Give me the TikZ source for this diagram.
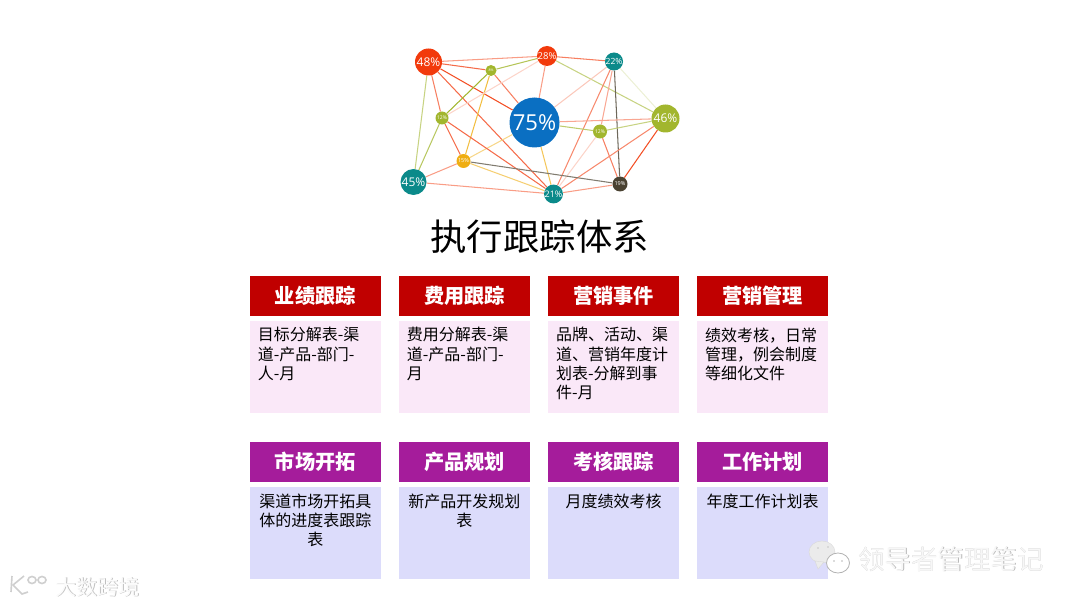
\documentclass[tikz,border=0pt]{standalone}
\usepackage{fontspec}
\setmainfont{Noto Sans CJK SC}
\newfontfamily\pctfont{Open Sans}
\usetikzlibrary{positioning, backgrounds}
\definecolor{cred}{HTML}{C00000}
\definecolor{cpurple}{HTML}{A51C9B}
\definecolor{cpink}{HTML}{FAE8F8}
\definecolor{clav}{HTML}{DCDCFB}
\definecolor{corange}{HTML}{F23A0C}
\definecolor{cteal}{HTML}{0B8A8A}
\definecolor{colive}{HTML}{A2B62E}
\definecolor{cblue}{HTML}{0A6FC2}
\definecolor{cyellow}{HTML}{EFAE12}
\definecolor{cdark}{HTML}{4A4232}
\newcommand{\celltext}[2][\raggedright]{\parbox[c][84pt][t]{115pt}{\vspace*{2.6pt}#1 #2}}

\begin{document}
\begin{tikzpicture}[
  x=1pt, y=-1pt,
  node distance = 5pt and 17.8pt,
  dot/.style    = {circle, fill=#1, inner sep=0pt, text=white},
  headbox/.style = {rectangle, fill=#1, text=white, minimum width=130.9pt,
                    minimum height=40pt, inner sep=0pt,
                    font=\fontsize{20.2}{24}\selectfont\bfseries},
  bodybox/.style = {rectangle, fill=#1, minimum width=130.9pt,
                    minimum height=92pt, inner xsep=7.8pt, inner ysep=4pt,
                    font=\fontsize{16}{19.3}\selectfont},
  lnk/.style    = {#1, line width=1.05pt},
  wmark/.style  = {text=gray!#1, inner sep=0pt},
  logoline/.style = {gray!38, line width=1.6pt},
]
\useasboundingbox (0,0) rectangle (1080,607);

%% --- Network nodes ---
\node[dot=cblue,   minimum size=50pt, font=\pctfont\fontsize{22}{24}\selectfont]  (n75) at (534.5,122.5) {75\%};
\node[dot=corange, minimum size=27pt, font=\pctfont\fontsize{12}{14}\selectfont]  (n48) at (428.5,62)  {48\%};
\node[dot=corange, minimum size=20pt, font=\pctfont\fontsize{9.5}{11}\selectfont] (n28) at (547,56)  {28\%};
\node[dot=cteal,   minimum size=18pt, font=\pctfont\fontsize{8.5}{10}\selectfont] (n22) at (614,61.5)  {22\%};
\node[dot=colive,  minimum size=11pt, font=\pctfont\fontsize{3.5}{4}\selectfont]  (n8)  at (491,70.5)  {8\%};
\node[dot=colive,  minimum size=28pt, font=\pctfont\fontsize{12}{14}\selectfont]  (n46) at (665.5,118.5) {46\%};
\node[dot=colive,  minimum size=13pt, font=\pctfont\fontsize{5}{6}\selectfont]    (n12a) at (442,118) {12\%};
\node[dot=colive,  minimum size=14pt, font=\pctfont\fontsize{5}{6}\selectfont]    (n12b) at (600,131.5) {12\%};
\node[dot=cyellow, minimum size=14pt, font=\pctfont\fontsize{5.5}{6}\selectfont]  (n15) at (463.5,161) {15\%};
\node[dot=cteal,   minimum size=26pt, font=\pctfont\fontsize{12}{14}\selectfont]  (n45) at (413.5,182) {45\%};
\node[dot=cteal,   minimum size=17pt, font=\pctfont\fontsize{9}{10}\selectfont]   (n21) at (553.5,194) {21\%};
\node[dot=cdark,   minimum size=15pt, font=\pctfont\fontsize{5.5}{6}\selectfont]  (n19) at (620,184) {19\%};

%% --- Network links ---
\begin{pgfonlayer}{background}
  \draw[lnk=corange!50]  (n48) -- (n28);
  \draw[lnk=corange!75]  (n48) -- (n8);
  \draw[lnk=corange!90]  (n48) -- (n75);
  \draw[lnk=corange!65]  (n48) -- (n12a);
  \draw[lnk=corange!75]  (n48) -- (n21);
  \draw[lnk=colive!60]   (n48) -- (n45);
  \draw[lnk=colive!80]   (n8)  -- (n28);
  \draw[lnk=colive]      (n8)  -- (n12a);
  \draw[lnk=cyellow!80]  (n8)  -- (n15);
  \draw[lnk=corange!65]  (n8)  -- (n75);
  \draw[lnk=corange!65]  (n28) -- (n22);
  \draw[lnk=corange!50]  (n28) -- (n75);
  \draw[lnk=colive!60]   (n28) -- (n46);
  \draw[lnk=corange!22]  (n28) -- (n12a);
  \draw[lnk=corange!28]  (n22) -- (n75);
  \draw[lnk=corange!60]  (n22) -- (n21);
  \draw[lnk=corange!45]  (n22) -- (n12b);
  \draw[lnk=cdark!80]    (n22) -- (n19);
  \draw[lnk=colive!20]   (n22) -- (n46);
  \draw[lnk=corange!45]  (n75) -- (n46);
  \draw[lnk=colive!70]   (n75) -- (n12b);
  \draw[lnk=cyellow!50]  (n75) -- (n15);
  \draw[lnk=cyellow!70]  (n75) -- (n21);
  \draw[lnk=colive!60]   (n12b) -- (n46);
  \draw[lnk=corange!65]  (n12b) -- (n19);
  \draw[lnk=corange!22]  (n12b) -- (n21);
  \draw[lnk=corange!90]  (n46) -- (n19);
  \draw[lnk=corange!60]  (n46) -- (n21);
  \draw[lnk=colive!75]   (n12a) -- (n45);
  \draw[lnk=corange!75]  (n12a) -- (n15);
  \draw[lnk=corange!75]  (n12a) -- (n21);
  \draw[lnk=corange!50]  (n15) -- (n45);
  \draw[lnk=cyellow!60]  (n15) -- (n21);
  \draw[lnk=cdark!70]    (n15) -- (n19);
  \draw[lnk=corange!50]  (n45) -- (n21);
  \draw[lnk=corange!50]  (n21) -- (n19);
\end{pgfonlayer}

%% --- Title ---
\node[font=\fontsize{36.4}{40}\selectfont] (title) at (539.7,236.5) {执行跟踪体系};

%% --- First row ---
\node[headbox=cred] (h1) at (315.3,295.5) {业绩跟踪};
\node[headbox=cred, right=of h1] (h2) {费用跟踪};
\node[headbox=cred, right=of h2] (h3) {营销事件};
\node[headbox=cred, right=of h3] (h4) {营销管理};
\node[bodybox=cpink, below=of h1] (b1) {\celltext{目标分解表-渠\\道-产品-部门-\\人-月}};
\node[bodybox=cpink, below=of h2] (b2) {\celltext{费用分解表-渠\\道-产品-部门-\\月}};
\node[bodybox=cpink, below=of h3] (b3) {\celltext{品牌、活动、渠\\道、营销年度计\\划表-分解到事\\件-月}};
\node[bodybox=cpink, below=of h4] (b4) {\celltext{绩效考核，日常\\管理，例会制度\\等细化文件}};

%% --- Second row ---
\node[headbox=cpurple] (h5) at (315.3,461.5) {市场开拓};
\node[headbox=cpurple, right=of h5] (h6) {产品规划};
\node[headbox=cpurple, right=of h6] (h7) {考核跟踪};
\node[headbox=cpurple, right=of h7] (h8) {工作计划};
\node[bodybox=clav, below=of h5] (b5) {\celltext[\centering]{渠道市场开拓具\\体的进度表跟踪\\表}};
\node[bodybox=clav, below=of h6] (b6) {\celltext[\centering]{新产品开发规划\\表}};
\node[bodybox=clav, below=of h7] (b7) {\celltext[\centering]{月度绩效考核}};
\node[bodybox=clav, below=of h8] (b8) {\celltext[\centering]{年度工作计划表}};

%% --- Watermarks ---
\filldraw[draw=gray!30, fill=gray!16] (822,552) ellipse (13 and 11);
\filldraw[draw=gray!30, fill=gray!16] (815,561) -- (818,569) -- (824,562) -- cycle;
\filldraw[draw=gray!60, fill=white, line width=0.8pt] (838,563) ellipse (11.5 and 10);
\fill[gray!55] (834,561) circle (0.9) (842,561) circle (0.9);
\fill[gray!45] (818,548) circle (0.9) (828,547) circle (0.9);
\node[wmark=55, font=\fontsize{26.5}{30}\selectfont] (wm1s) at (951.6,559.6) {领导者管理笔记};
\node[wmark=6,  font=\fontsize{26.5}{30}\selectfont] (wm1)  at (951,559)     {领导者管理笔记};
\draw[logoline] (12,576) -- (11,592);
\draw[logoline] (24,576) -- (13,585) -- (22,594) -- (28,592);
\draw[logoline] (32,580) ellipse (4 and 3.5);
\draw[logoline] (42,580) ellipse (4 and 3.5);
\node[wmark=50, font=\fontsize{21}{24}\selectfont] (wm2s) at (98.5,587.5) {大数跨境};
\node[wmark=3,  font=\fontsize{21}{24}\selectfont] (wm2)  at (98,587)     {大数跨境};

\end{tikzpicture}
\end{document}
